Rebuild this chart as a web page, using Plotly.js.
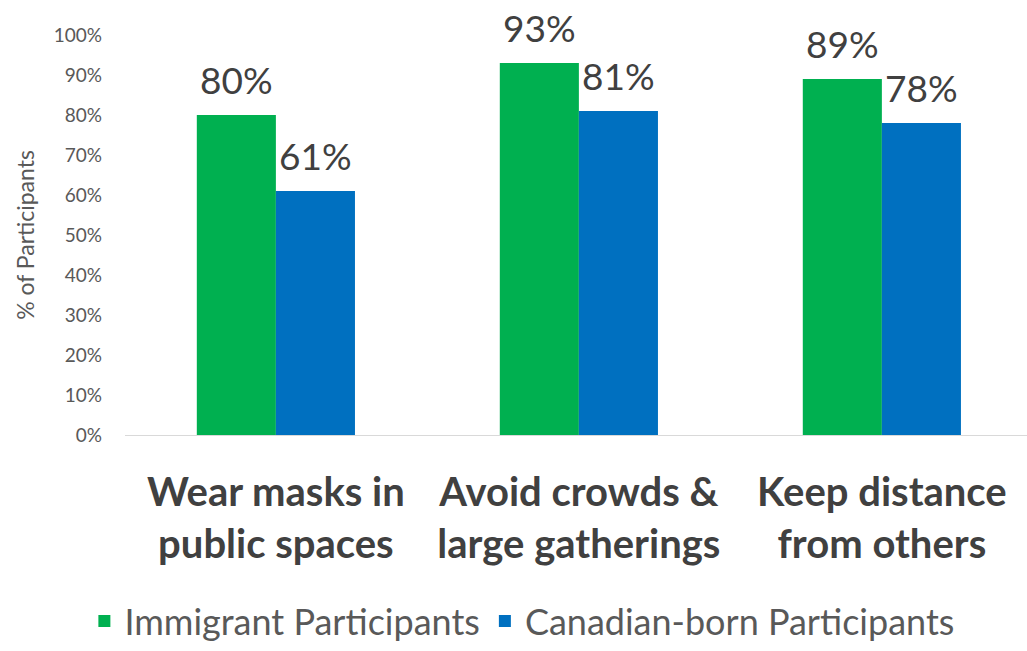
<!DOCTYPE html>
<html>
<head>
<meta charset="utf-8">
<script src="https://cdn.plot.ly/plotly-3.0.1.min.js"></script>
<style>html,body{margin:0;padding:0;background:#fff;}#chart{width:1027px;height:651px;}</style>
</head>
<body>
<div id="chart"></div>
<script>
const categories = ["Wear masks in<br>public spaces", "Avoid crowds &<br>large gatherings", "Keep distance<br>from others"];
const immigrant = [80, 93, 89];
const canadianBorn = [61, 81, 78];
const seriesNames = ["Immigrant Participants", "Canadian-born Participants"];
const tickVals = [0, 10, 20, 30, 40, 50, 60, 70, 80, 90, 100];
const tickText = tickVals.map(v => v + "%");

const FONT = "Lato, 'Open Sans', sans-serif";
const BAR_HALF_PX = 39.5;

const traces = [
  {
    type: "bar", name: seriesNames[0], x: categories, y: immigrant,
    marker: {color: "#00B050"}, hoverinfo: "none"
  },
  {
    type: "bar", name: seriesNames[1], x: categories, y: canadianBorn,
    marker: {color: "#0070C0"}, hoverinfo: "none"
  }
];

const annotations = [];
[[immigrant, -BAR_HALF_PX], [canadianBorn, BAR_HALF_PX]].forEach(([vals, dx]) => {
  vals.forEach((v, i) => {
    annotations.push({
      x: categories[i], y: v, xref: "x", yref: "y",
      text: v + "%", showarrow: false,
      xshift: dx, yshift: 36, yanchor: "middle", xanchor: "center",
      font: {family: FONT, size: 37, color: "#404040"}
    });
  });
});

const layout = {
  width: 1027, height: 651,
  margin: {l: 125, r: 0, t: 35, b: 216, autoexpand: false},
  paper_bgcolor: "#ffffff", plot_bgcolor: "#ffffff",
  font: {family: FONT, color: "#595959"},
  barmode: "group",
  bargap: 0.478, bargroupgap: 0,
  showlegend: true,
  legend: {
    orientation: "h", x: 0.44, xanchor: "center", xref: "paper",
    y: -0.465, yanchor: "middle",
    font: {family: FONT, size: 36, color: "#595959"},
    itemwidth: 30, traceorder: "normal"
  },
  annotations: annotations,
  xaxis: {
    type: "category",
    range: [-0.498, 2.479],
    showgrid: false, zeroline: false,
    showline: true, linecolor: "#d9d9d9", linewidth: 1,
    ticks: "", ticklabelstandoff: 22,
    tickfont: {family: FONT, size: 40, color: "#404040", weight: "bold"}
  },
  yaxis: {
    range: [0, 100],
    tickvals: tickVals, ticktext: tickText,
    showgrid: false, zeroline: false, showline: false,
    ticks: "", ticklabelstandoff: 22,
    tickfont: {family: FONT, size: 19, color: "#595959"},
    title: {text: "% of Participants", font: {family: FONT, size: 23, color: "#595959"}, standoff: 12}
  }
};

Plotly.newPlot("chart", traces, layout, {displayModeBar: false, staticPlot: true});
</script>
</body>
</html>
